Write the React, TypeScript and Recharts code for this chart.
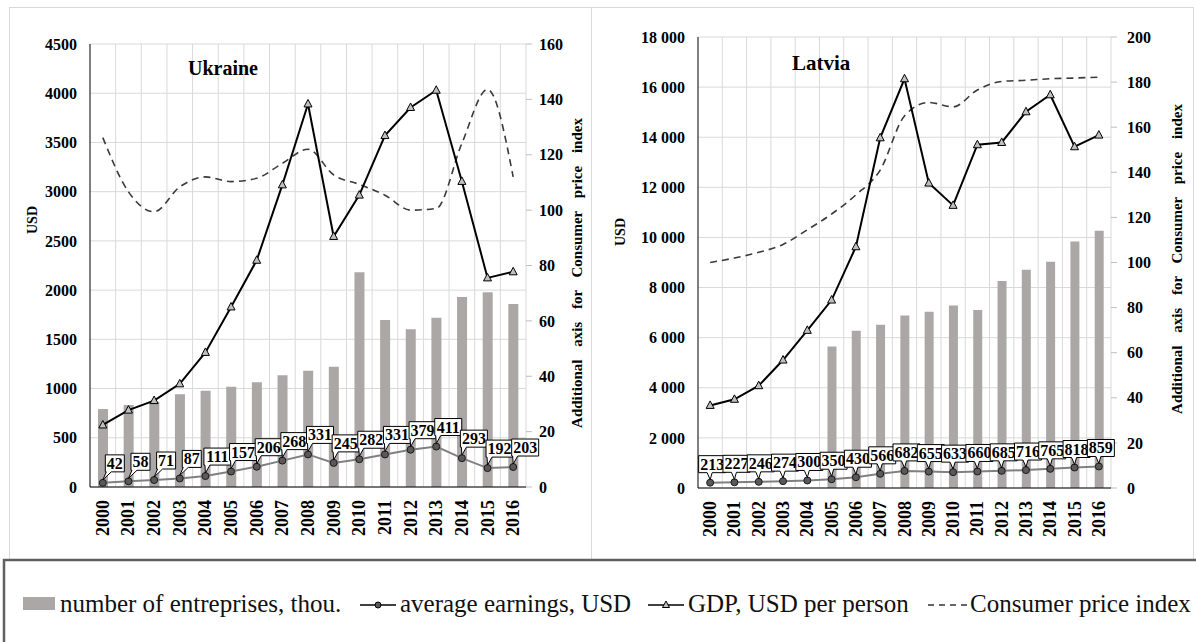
import {
  ComposedChart,
  Bar,
  Line,
  XAxis,
  YAxis,
  CartesianGrid,
  LabelList,
  Label,
} from "recharts";

// ── Data ─────────────────────────────────────────────────────────────

const years = [
  "2000", "2001", "2002", "2003", "2004", "2005", "2006", "2007", "2008",
  "2009", "2010", "2011", "2012", "2013", "2014", "2015", "2016",
];

// Ukraine
const uaEnterprises = [792, 833, 867, 942, 978, 1019, 1063, 1135, 1182, 1222, 2181, 1697, 1602, 1720, 1930, 1978, 1859];
const uaEarnings = [42, 58, 71, 87, 111, 157, 206, 268, 331, 245, 282, 331, 379, 411, 293, 192, 203];
const uaGdp = [630, 781, 878, 1048, 1367, 1829, 2303, 3069, 3891, 2545, 2965, 3570, 3855, 4030, 3104, 2124, 2186];
const uaCpi = [126.2, 106.6, 99.4, 108.4, 112, 110.3, 111.5, 116.9, 122, 112.7, 109.3, 105.4, 100, 100.6, 124.1, 143.6, 112];

// Latvia
const lvEnterprises = [null, null, null, null, null, 5650, 6276, 6515, 6887, 7034, 7286, 7102, 8259, 8710, 9029, 9840, 10266];
const lvEarnings = [213, 227, 246, 274, 300, 350, 430, 566, 682, 655, 633, 660, 685, 716, 765, 818, 859];
const lvGdp = [3296, 3540, 4083, 5107, 6292, 7501, 9628, 13977, 16333, 12170, 11280, 13700, 13790, 15015, 15693, 13620, 14085];
const lvCpi = [100, 102, 104.5, 108, 114.5, 121.5, 130, 141, 165, 171, 169, 176.5, 180.3, 180.8, 181.5, 181.8, 182.2];

const uaLeftTicks = [0, 500, 1000, 1500, 2000, 2500, 3000, 3500, 4000, 4500];
const uaRightTicks = [0, 20, 40, 60, 80, 100, 120, 140, 160];
const lvLeftTicks = [0, 2000, 4000, 6000, 8000, 10000, 12000, 14000, 16000, 18000];
const lvRightTicks = [0, 20, 40, 60, 80, 100, 120, 140, 160, 180, 200];

const legendItems = [
  "number of entreprises, thou.",
  "average earnings, USD",
  "GDP, USD per person",
  "Consumer price index",
];

const FONT = "'Liberation Serif', 'Times New Roman', serif";
const GRID = "#d9d9d9";
const BAR = "#aba7a6";

function buildRows(
  ent: (number | null)[],
  earn: number[],
  gdp: number[],
  cpi: number[]
) {
  return years.map((year, i) => ({
    year,
    ent: ent[i],
    earn: earn[i],
    gdp: gdp[i],
    cpi: cpi[i],
  }));
}

const uaRows = buildRows(uaEnterprises, uaEarnings, uaGdp, uaCpi);
const lvRows = buildRows(lvEnterprises, lvEarnings, lvGdp, lvCpi);

// ── Small render helpers ─────────────────────────────────────────────

const spaced = (v: number) =>
  String(v).replace(/\B(?=(\d{3})+(?!\d))/g, " ");

function YearTick(props: any) {
  const { x, y, payload } = props;
  return (
    <text
      x={x}
      y={y}
      transform={`rotate(-90 ${x} ${y})`}
      textAnchor="end"
      dominantBaseline="central"
      fontSize={18}
      fontWeight={700}
      fontFamily={FONT}
      fill="#000"
    >
      {payload.value}
    </text>
  );
}

function TriangleDot(props: any) {
  const { cx, cy } = props;
  if (cx == null || cy == null) return <g />;
  return (
    <polygon
      points={`${cx},${cy - 4.5} ${cx + 4},${cy + 3} ${cx - 4},${cy + 3}`}
      fill="#bfbfbf"
      stroke="#000"
      strokeWidth={1}
    />
  );
}

function makeCallout(dx: number, lift: number) {
  return (props: any) => {
    const { x, y, value } = props;
    if (x == null || y == null) return null;
    const text = String(value);
    const w = text.length * 8 + 3;
    const h = 17;
    const cx = x + dx;
    const left = cx - w / 2;
    const bottom = y - lift;
    const top = bottom - h;
    const ta = Math.min(Math.max(x - 3, left + 1), left + w - 7);
    const tb = ta + 5;
    const d = `M${left},${top}H${left + w}V${bottom}H${tb}L${x},${y - 3}L${ta},${bottom}H${left}Z`;
    return (
      <g>
        <path d={d} fill="#fff" stroke="#000" strokeWidth={1} />
        <text
          x={cx}
          y={bottom - h / 2 + 5.5}
          textAnchor="middle"
          fontSize={16}
          fontWeight={700}
          fontFamily={FONT}
          fill="#000"
        >
          {text}
        </text>
      </g>
    );
  };
}

function axisTitle(text: string, dx: number, dy: number, size: number, wordSpacing = 0) {
  return (props: any) => {
    const vb = props.viewBox || {};
    const cx = vb.x + dx;
    const cy = vb.y + vb.height / 2 + dy;
    return (
      <text
        x={cx}
        y={cy}
        transform={`rotate(-90 ${cx} ${cy})`}
        textAnchor="middle"
        dominantBaseline="central"
        fontSize={size}
        fontWeight={700}
        fontFamily={FONT}
        fill="#000"
        style={{ wordSpacing }}
      >
        {text}
      </text>
    );
  };
}

const boundaryLines = ({ offset }: any) => {
  const step = offset.width / years.length;
  return years.map((_, i) => offset.left + (i + 1) * step);
};

// ── One panel ────────────────────────────────────────────────────────

interface PanelProps {
  rows: ReturnType<typeof buildRows>;
  width: number;
  height: number;
  top: number;
  leftWidth: number;
  rightWidth: number;
  xHeight: number;
  leftMax: number;
  rightMax: number;
  leftTicks: number[];
  rightTicks: number[];
  leftFmt?: (v: number) => string;
  barSize: number;
  rightMargin: number;
  labelDx: number;
  labelLift: number;
  usdPos: [number, number];
  cpiPos: [number, number];
}

function Panel(p: PanelProps) {
  const tickStyle = { fontSize: 16, fontWeight: 700, fontFamily: FONT, fill: "#000" };
  return (
    <ComposedChart
      width={p.width}
      height={p.height}
      data={p.rows}
      margin={{ top: p.top, right: 0, bottom: 0, left: 0 }}
      barCategoryGap={0}
    >
      <CartesianGrid
        yAxisId="left"
        stroke={GRID}
        strokeWidth={1}
        verticalCoordinatesGenerator={boundaryLines}
      />
      <XAxis
        dataKey="year"
        height={p.xHeight}
        interval={0}
        tickLine={false}
        tickSize={0}
        tickMargin={13}
        axisLine={{ stroke: "#000", strokeWidth: 1 }}
        tick={<YearTick />}
      />
      <YAxis
        yAxisId="left"
        width={p.leftWidth}
        domain={[0, p.leftMax]}
        ticks={p.leftTicks}
        interval={0}
        tickLine={false}
        tickSize={0}
        tickMargin={13}
        axisLine={{ stroke: "#000", strokeWidth: 1 }}
        tick={tickStyle}
        tickFormatter={p.leftFmt}
      >
        <Label content={axisTitle("USD", p.usdPos[0], p.usdPos[1], 14)} />
      </YAxis>
      <YAxis
        yAxisId="right"
        orientation="right"
        width={p.rightWidth}
        domain={[0, p.rightMax]}
        ticks={p.rightTicks}
        interval={0}
        axisLine={false}
        tickLine={{ stroke: "#bfbfbf" }}
        tickSize={6}
        tickMargin={p.rightMargin}
        tick={{ ...tickStyle, textAnchor: "start" }}
      >
        <Label
          content={axisTitle(
            "Additional axis for Consumer price index",
            p.cpiPos[0],
            p.cpiPos[1],
            15,
            9
          )}
        />
      </YAxis>

      <Bar
        yAxisId="left"
        dataKey="ent"
        fill={BAR}
        barSize={p.barSize}
        isAnimationActive={false}
      />
      <Line
        yAxisId="right"
        dataKey="cpi"
        type="monotone"
        stroke="#3a3a3a"
        strokeWidth={1.6}
        strokeDasharray="7 5"
        dot={false}
        isAnimationActive={false}
      />
      <Line
        yAxisId="left"
        dataKey="gdp"
        type="linear"
        stroke="#000"
        strokeWidth={2}
        dot={<TriangleDot />}
        activeDot={false}
        isAnimationActive={false}
      />
      <Line
        yAxisId="left"
        dataKey="earn"
        type="linear"
        stroke="#808080"
        strokeWidth={2}
        dot={{ r: 3.5, fill: "#595959", stroke: "#1a1a1a", strokeWidth: 1 }}
        activeDot={false}
        isAnimationActive={false}
      >
        <LabelList dataKey="earn" content={makeCallout(p.labelDx, p.labelLift)} />
      </Line>
    </ComposedChart>
  );
}

// ── Legend ───────────────────────────────────────────────────────────

function LegendBox() {
  const baseline = 612;
  const mid = 605;
  const textStyle = { fontSize: 25, fontFamily: FONT, fill: "#111" };
  return (
    <svg
      width={1196}
      height={642}
      style={{ position: "absolute", left: 0, top: 0, pointerEvents: "none" }}
    >
      <rect x={4} y={560} width={1200} height={100} fill="none" stroke="#606060" strokeWidth={2.5} />

      <rect x={23} y={597} width={32} height={13} fill={BAR} />
      <text x={60} y={baseline} {...textStyle}>{legendItems[0]}</text>

      <line x1={360} y1={mid} x2={396} y2={mid} stroke="#000" strokeWidth={1.5} />
      <circle cx={378} cy={mid} r={3} fill="#595959" stroke="#000" />
      <text x={400} y={baseline} {...textStyle}>{legendItems[1]}</text>

      <line x1={648} y1={mid} x2={684} y2={mid} stroke="#000" strokeWidth={1.5} />
      <polygon points={`666,${mid - 4} 669.5,${mid + 2.5} 662.5,${mid + 2.5}`} fill="#bfbfbf" stroke="#000" strokeWidth={1} />
      <text x={688} y={baseline} {...textStyle}>{legendItems[2]}</text>

      <line x1={928} y1={mid} x2={968} y2={mid} stroke="#333" strokeWidth={1.5} strokeDasharray="6 5" />
      <text x={970} y={baseline} {...textStyle}>{legendItems[3]}</text>
    </svg>
  );
}

// ── App ──────────────────────────────────────────────────────────────

export default function App() {
  return (
    <div
      style={{
        position: "absolute",
        left: 0,
        top: 0,
        width: 1196,
        height: 642,
        overflow: "hidden",
        background: "#fff",
        fontFamily: FONT,
      }}
    >
      {/* panel frames */}
      <div style={{ position: "absolute", left: 9, top: 7, width: 583, height: 552, border: `1px solid ${GRID}`, borderBottom: "none", boxSizing: "border-box" }} />
      <div style={{ position: "absolute", left: 592, top: 7, width: 602, height: 552, border: `1px solid ${GRID}`, borderLeft: "none", borderBottom: "none", boxSizing: "border-box" }} />

      <div style={{ position: "absolute", left: 9, top: 7 }}>
        <Panel
          rows={uaRows}
          width={583}
          height={551}
          top={37}
          leftWidth={81}
          rightWidth={66}
          xHeight={71}
          leftMax={4500}
          rightMax={160}
          leftTicks={uaLeftTicks}
          rightTicks={uaRightTicks}
          barSize={10}
          rightMargin={7}
          labelDx={12}
          labelLift={11}
          usdPos={[23.5, -45.5]}
          cpiPos={[51, 7.5]}
        />
      </div>
      <div style={{ position: "absolute", left: 592, top: 7 }}>
        <Panel
          rows={lvRows}
          width={601}
          height={551}
          top={30}
          leftWidth={106}
          rightWidth={82}
          xHeight={70}
          leftMax={18000}
          rightMax={200}
          leftTicks={lvLeftTicks}
          rightTicks={lvRightTicks}
          leftFmt={spaced}
          barSize={9}
          rightMargin={10}
          labelDx={2}
          labelLift={10}
          usdPos={[28, -30.5]}
          cpiPos={[66, -3.5]}
        />
      </div>

      <svg width={1196} height={120} style={{ position: "absolute", left: 0, top: 0, pointerEvents: "none" }}>
        <text x={188} y={75} fontSize={20} fontWeight={700} fontFamily={FONT}>Ukraine</text>
        <text x={792} y={70} fontSize={21} fontWeight={700} fontFamily={FONT}>Latvia</text>
      </svg>

      <LegendBox />
    </div>
  );
}
